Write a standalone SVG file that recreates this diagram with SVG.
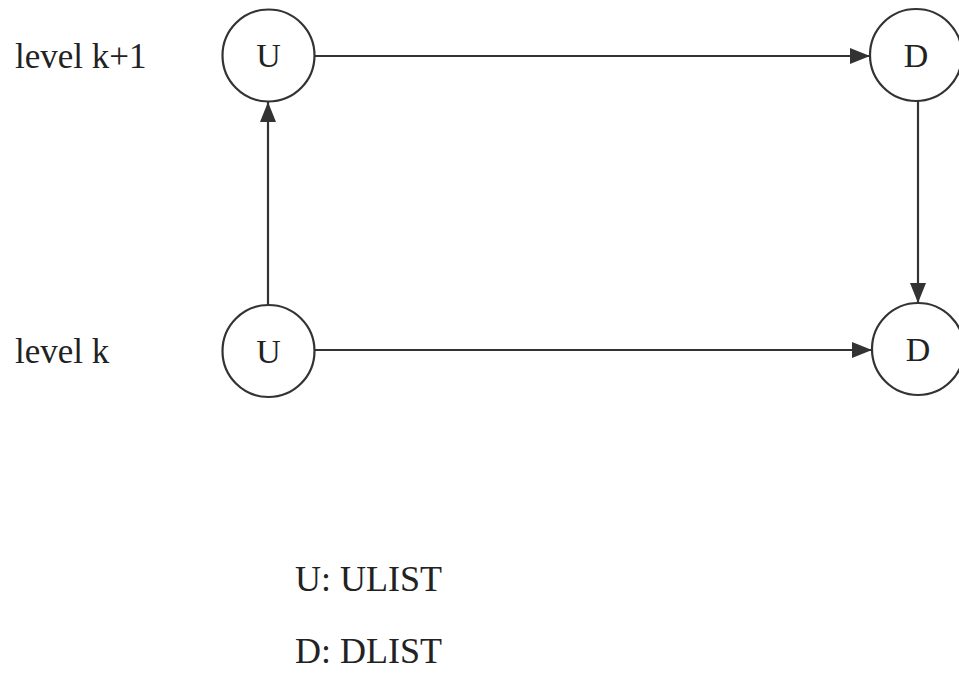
<svg xmlns="http://www.w3.org/2000/svg" width="959" height="673" viewBox="0 0 959 673">
<style>
.n{fill:#fff;stroke:#333;stroke-width:2.2}
.t{font-family:"Liberation Serif",serif;fill:#222;font-size:35px}
.l{font-size:36px}
.c{text-anchor:middle;font-size:34px}
.e{stroke:#333;stroke-width:2.2;fill:none}
</style>
<defs>
<marker id="a" markerWidth="20" markerHeight="16" refX="20" refY="8" orient="auto" markerUnits="userSpaceOnUse">
<path d="M0,0 L20,8 L0,16 Z" fill="#333"/>
</marker>
</defs>
<rect width="959" height="673" fill="#fff"/>
<g id="connectors">
<line class="e" x1="315" y1="56" x2="870" y2="56" marker-end="url(#a)"/>
<line class="e" x1="268" y1="305" x2="268" y2="102" marker-end="url(#a)"/>
<line class="e" x1="918" y1="101" x2="918" y2="303" marker-end="url(#a)"/>
<line class="e" x1="315" y1="350" x2="872" y2="350" marker-end="url(#a)"/>
</g>
<g id="u_top"><circle class="n" cx="268.5" cy="55.5" r="46"/><text class="t c" x="268.5" y="67">U</text></g>
<g id="d_top"><circle class="n" cx="916" cy="55" r="46"/><text class="t c" x="916" y="67">D</text></g>
<g id="u_bot"><circle class="n" cx="268.5" cy="351" r="46"/><text class="t c" x="268.5" y="363">U</text></g>
<g id="d_bot"><circle class="n" cx="918" cy="349" r="46"/><text class="t c" x="918" y="361">D</text></g>
<text class="t" x="15" y="68">level k+1</text>
<text class="t" x="15" y="363">level k</text>
<text class="t l" x="295" y="591">U: ULIST</text>
<text class="t l" x="295" y="663">D: DLIST</text>
</svg>
